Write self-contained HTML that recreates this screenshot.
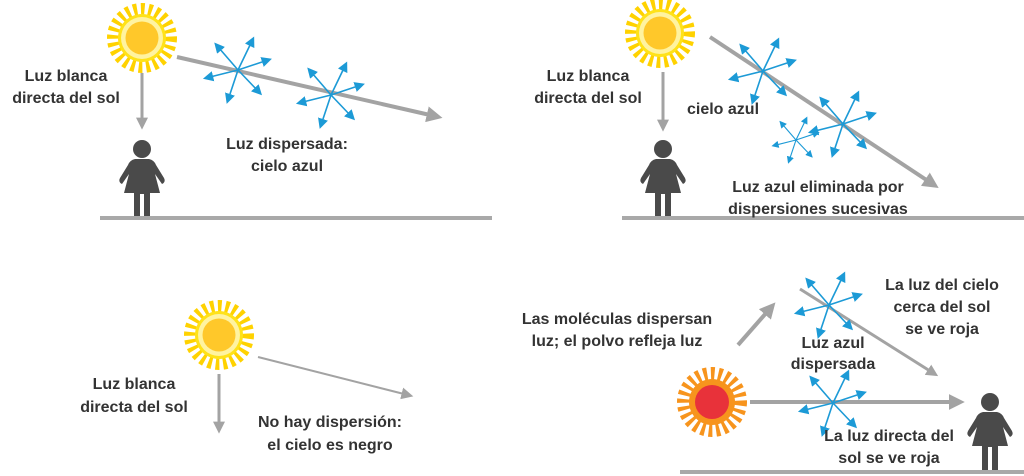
<!DOCTYPE html>
<html><head><meta charset="utf-8"><style>
html,body{margin:0;padding:0;background:#fff;}
svg{display:block;}
text{font-family:"Liberation Sans",sans-serif;font-weight:bold;font-size:16px;fill:#333;text-anchor:middle;}
</style></head><body>
<svg width="1024" height="476" viewBox="0 0 1024 476" xmlns="http://www.w3.org/2000/svg">
<defs>
<marker id="ga" viewBox="0 0 10 10" refX="2" refY="5" markerWidth="4" markerHeight="4" orient="auto"><path d="M0,0 L10,5 L0,10 Z" fill="#a3a3a3"/></marker>
<marker id="gb" viewBox="0 0 10 10" refX="2" refY="5" markerWidth="6" markerHeight="6" orient="auto"><path d="M0,0 L10,5 L0,10 Z" fill="#a3a3a3"/></marker>
<marker id="ba" viewBox="0 0 10 10" refX="3" refY="5" markerWidth="6.5" markerHeight="6.5" orient="auto"><path d="M0,0 L10,5 L0,10 Z" fill="#1c9ad6"/></marker>
<g id="sun">
<circle r="27" fill="none" stroke="#ffd200" stroke-width="16" stroke-dasharray="3.5 3.5"/>
<circle r="24" fill="#ffe21a"/>
<circle r="21" fill="#fff3a0"/>
<circle r="16.5" fill="#ffc82a"/>
</g>
<g id="star" stroke="#1c9ad6" stroke-width="1.6" marker-end="url(#ba)">
<line x1="0" y1="0" x2="27" y2="-9"/>
<line x1="0" y1="0" x2="13" y2="-27"/>
<line x1="0" y1="0" x2="-19" y2="-22"/>
<line x1="0" y1="0" x2="-28" y2="7"/>
<line x1="0" y1="0" x2="-9" y2="27"/>
<line x1="0" y1="0" x2="19" y2="20"/>
</g>
<g id="person" fill="#4a4a4a">
<circle cx="0" cy="9" r="9"/>
<path d="M-7,19 L7,19 Q12,20 14,25 L22,38 Q24,42 20,44 L13,34 L18,53 L8,53 L8,77 L2,77 L2,54 L-2,54 L-2,77 L-8,77 L-8,53 L-18,53 L-13,34 L-20,44 Q-24,42 -22,38 L-14,25 Q-12,20 -7,19 Z"/>
</g>
</defs>

<!-- Panel 1 -->
<use href="#sun" x="142" y="38"/>
<line x1="142" y1="73" x2="142" y2="120" stroke="#a3a3a3" stroke-width="3" marker-end="url(#ga)"/>
<use href="#person" x="142" y="140"/>
<line x1="100" y1="218" x2="492" y2="218" stroke="#a9a9a9" stroke-width="4"/>
<line x1="177" y1="57" x2="430" y2="115" stroke="#a3a3a3" stroke-width="4" marker-end="url(#ga)"/>
<use href="#star" x="238" y="70"/>
<use href="#star" x="331" y="95"/>
<text x="66" y="81">Luz blanca</text>
<text x="66" y="103">directa del sol</text>
<text x="287" y="149">Luz dispersada:</text>
<text x="287" y="171">cielo azul</text>

<!-- Panel 2 -->
<use href="#sun" x="660" y="33"/>
<line x1="663" y1="72" x2="663" y2="122" stroke="#a3a3a3" stroke-width="3" marker-end="url(#ga)"/>
<use href="#person" x="663" y="140"/>
<line x1="622" y1="218" x2="1024" y2="218" stroke="#a9a9a9" stroke-width="4"/>
<line x1="710" y1="37" x2="928" y2="181" stroke="#a3a3a3" stroke-width="4" marker-end="url(#ga)"/>
<use href="#star" x="763" y="71"/>
<use href="#star" x="843" y="124"/>
<g transform="translate(796,140) scale(0.7)"><use href="#star"/></g>
<text x="588" y="81">Luz blanca</text>
<text x="588" y="103">directa del sol</text>
<text x="723" y="114">cielo azul</text>
<text x="818" y="192">Luz azul eliminada por</text>
<text x="818" y="214">dispersiones sucesivas</text>

<!-- Panel 3 -->
<use href="#sun" x="219" y="335"/>
<line x1="219" y1="374" x2="219" y2="424" stroke="#a3a3a3" stroke-width="3" marker-end="url(#ga)"/>
<line x1="258" y1="357" x2="404" y2="394" stroke="#a3a3a3" stroke-width="2" marker-end="url(#gb)"/>
<text x="134" y="389">Luz blanca</text>
<text x="134" y="412">directa del sol</text>
<text x="330" y="427">No hay dispersión:</text>
<text x="330" y="450">el cielo es negro</text>

<!-- Panel 4 -->
<g transform="translate(712,402)">
<circle r="27" fill="none" stroke="#f7941d" stroke-width="16" stroke-dasharray="3.5 3.5"/>
<circle r="23" fill="#f7941d"/>
<circle r="17" fill="#e8323a"/>
</g>
<line x1="750" y1="402" x2="952" y2="402" stroke="#a3a3a3" stroke-width="4" marker-end="url(#ga)"/>
<use href="#person" x="990" y="393"/>
<line x1="680" y1="472" x2="1024" y2="472" stroke="#a9a9a9" stroke-width="4"/>
<line x1="738" y1="345" x2="767" y2="312" stroke="#a3a3a3" stroke-width="4" marker-end="url(#ga)"/>
<line x1="800" y1="289" x2="930" y2="371" stroke="#a3a3a3" stroke-width="3" marker-end="url(#ga)"/>
<use href="#star" x="829" y="305"/>
<use href="#star" x="833" y="403"/>
<text x="617" y="324">Las moléculas dispersan</text>
<text x="617" y="346">luz; el polvo refleja luz</text>
<text x="942" y="290">La luz del cielo</text>
<text x="942" y="312">cerca del sol</text>
<text x="942" y="334">se ve roja</text>
<text x="833" y="348">Luz azul</text>
<text x="833" y="369">dispersada</text>
<text x="889" y="441">La luz directa del</text>
<text x="889" y="463">sol se ve roja</text>
</svg>
</body></html>
